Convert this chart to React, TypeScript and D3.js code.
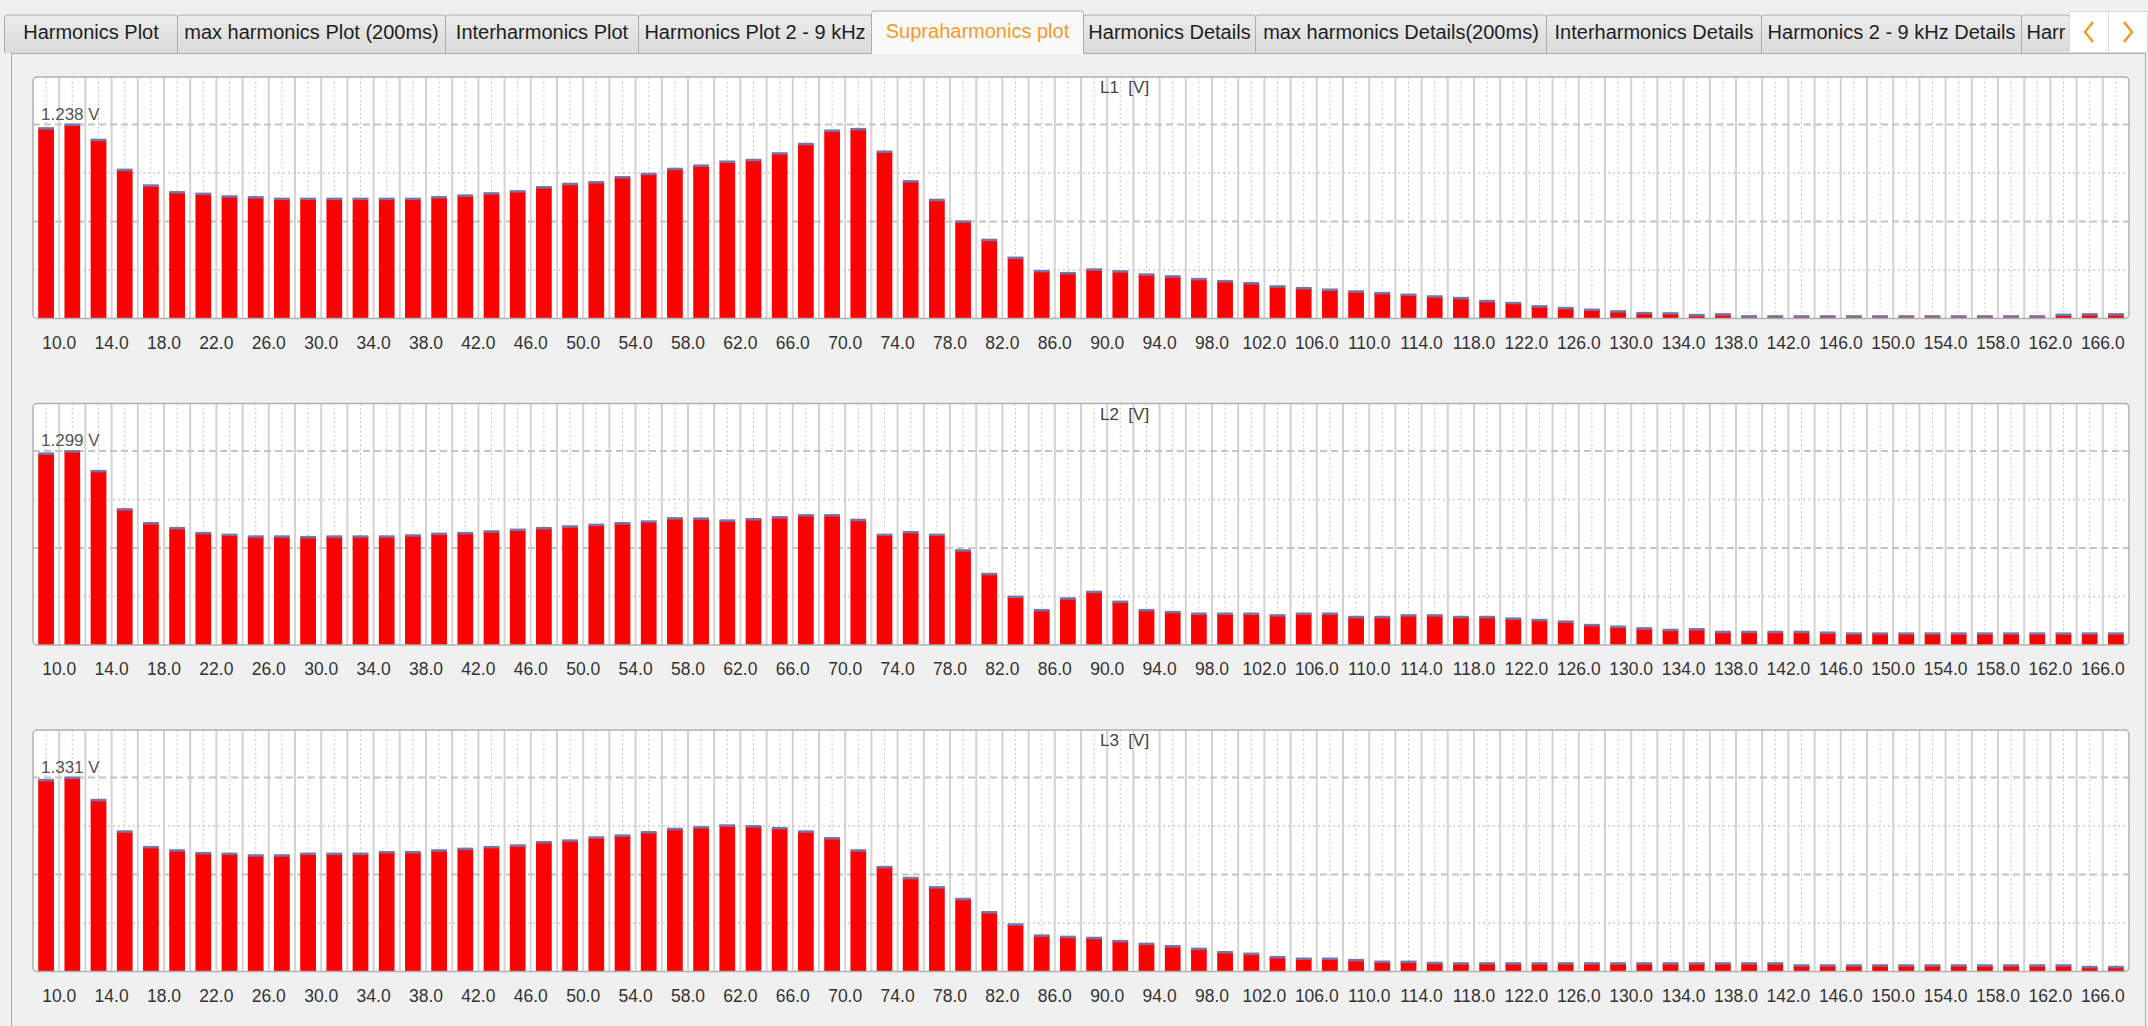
import React from 'react';
import * as d3 from 'd3';

// ---------- data ----------
const BANDS = [
  9, 11, 13, 15, 17, 19, 21, 23, 25, 27, 29, 31, 33, 35, 37, 39, 41, 43, 45, 47,
  49, 51, 53, 55, 57, 59, 61, 63, 65, 67, 69, 71, 73, 75, 77, 79, 81, 83, 85, 87,
  89, 91, 93, 95, 97, 99, 101, 103, 105, 107, 109, 111, 113, 115, 117, 119, 121, 123, 125, 127,
  129, 131, 133, 135, 137, 139, 141, 143, 145, 147, 149, 151, 153, 155, 157, 159, 161, 163, 165, 167,
];

const TICK_LABELS = [
  '10.0', '14.0', '18.0', '22.0', '26.0', '30.0', '34.0', '38.0', '42.0', '46.0',
  '50.0', '54.0', '58.0', '62.0', '66.0', '70.0', '74.0', '78.0', '82.0', '86.0',
  '90.0', '94.0', '98.0', '102.0', '106.0', '110.0', '114.0', '118.0', '122.0', '126.0',
  '130.0', '134.0', '138.0', '142.0', '146.0', '150.0', '154.0', '158.0', '162.0', '166.0',
];

const L1_VALUES = [
  1.215, 1.238, 1.141, 0.950, 0.850, 0.807, 0.797, 0.780, 0.775, 0.765,
  0.765, 0.765, 0.765, 0.765, 0.765, 0.775, 0.786, 0.800, 0.813, 0.839,
  0.860, 0.871, 0.903, 0.924, 0.956, 0.977, 1.002, 1.013, 1.055, 1.115,
  1.200, 1.210, 1.066, 0.877, 0.758, 0.620, 0.503, 0.389, 0.304, 0.291,
  0.314, 0.302, 0.282, 0.270, 0.253, 0.240, 0.227, 0.206, 0.195, 0.185,
  0.174, 0.164, 0.153, 0.142, 0.132, 0.113, 0.100, 0.079, 0.068, 0.057,
  0.047, 0.036, 0.034, 0.023, 0.028, 0.015, 0.015, 0.015, 0.015, 0.015,
  0.015, 0.015, 0.015, 0.015, 0.015, 0.015, 0.015, 0.025, 0.028, 0.028,
];

const L2_VALUES = [
  1.283, 1.299, 1.166, 0.910, 0.817, 0.784, 0.751, 0.739, 0.728, 0.728,
  0.724, 0.728, 0.728, 0.728, 0.735, 0.746, 0.751, 0.762, 0.773, 0.784,
  0.795, 0.806, 0.817, 0.828, 0.850, 0.848, 0.835, 0.844, 0.857, 0.870,
  0.870, 0.839, 0.739, 0.757, 0.739, 0.635, 0.477, 0.324, 0.235, 0.313,
  0.357, 0.291, 0.235, 0.222, 0.211, 0.211, 0.211, 0.200, 0.211, 0.211,
  0.189, 0.189, 0.200, 0.200, 0.189, 0.189, 0.178, 0.169, 0.158, 0.135,
  0.124, 0.113, 0.102, 0.107, 0.089, 0.089, 0.089, 0.089, 0.084, 0.078,
  0.078, 0.078, 0.078, 0.078, 0.078, 0.078, 0.078, 0.078, 0.078, 0.078,
];

const L3_VALUES = [
  1.315, 1.331, 1.178, 0.962, 0.855, 0.832, 0.814, 0.809, 0.798, 0.798,
  0.809, 0.809, 0.809, 0.820, 0.820, 0.832, 0.843, 0.855, 0.866, 0.889,
  0.900, 0.921, 0.934, 0.957, 0.980, 0.991, 1.003, 0.998, 0.985, 0.962,
  0.916, 0.832, 0.718, 0.643, 0.579, 0.499, 0.408, 0.324, 0.248, 0.239,
  0.232, 0.210, 0.191, 0.175, 0.157, 0.134, 0.123, 0.100, 0.089, 0.089,
  0.080, 0.068, 0.068, 0.060, 0.057, 0.057, 0.057, 0.057, 0.057, 0.057,
  0.057, 0.057, 0.057, 0.057, 0.057, 0.057, 0.057, 0.043, 0.043, 0.043,
  0.043, 0.043, 0.043, 0.043, 0.043, 0.043, 0.043, 0.043, 0.032, 0.032,
];

const PHASES = ['L1', 'L2', 'L3'];
const UNIT = 'V';

const TAB_LABELS = [
  'Harmonics Plot',
  'max harmonics Plot (200ms)',
  'Interharmonics Plot',
  'Harmonics Plot 2 - 9 kHz',
  'Supraharmonics plot',
  'Harmonics Details',
  'max harmonics Details(200ms)',
  'Interharmonics Details',
  'Harmonics 2 - 9 kHz Details',
  'Harr',
];
const SELECTED_TAB = 4;

// ---------- layout ----------
const W = 2148;
const H = 1026;
const FONT = "'Segoe UI','Liberation Sans',Arial,sans-serif";
const PLOT_L = 33;
const PLOT_R = 2129;
const PLOT_TOPS = [77, 403.5, 730];
const PLOT_H = 241.5;
const HEADROOM = 1.245;
const TAB_EDGES = [4, 177, 445, 638, 871, 1083, 1255, 1546, 1761, 2021, 2069];
const ORANGE = '#f39a2b';
const TAB_FONT = 20;

function Tabs() {
  const tabTop = 15;
  const selTop = 11;
  const bottom = 53;
  return (
    <g>
      <defs>
        <linearGradient id="tabGrad" x1="0" y1="0" x2="0" y2="1">
          <stop offset="0" stopColor="#ececec" />
          <stop offset="1" stopColor="#dadada" />
        </linearGradient>
      </defs>
      {TAB_LABELS.map((label, i) => {
        if (i === SELECTED_TAB) return null;
        const x0 = TAB_EDGES[i] + 0.5;
        const x1 = TAB_EDGES[i + 1] + 0.5;
        const r = 3;
        const d = `M${x0},${bottom} L${x0},${tabTop + r} Q${x0},${tabTop} ${x0 + r},${tabTop} L${x1 - r},${tabTop} Q${x1},${tabTop} ${x1},${tabTop + r} L${x1},${bottom}`;
        const last = i === TAB_LABELS.length - 1;
        return (
          <g key={label}>
            <path d={d} fill="url(#tabGrad)" stroke="#acacac" strokeWidth={1} />
            <text
              x={last ? x0 + 5 : (x0 + x1) / 2}
              y={39}
              textAnchor={last ? 'start' : 'middle'}
              fontSize={TAB_FONT}
              fill="#1e1e1e"
            >
              {label}
            </text>
          </g>
        );
      })}
      {(() => {
        const x0 = TAB_EDGES[SELECTED_TAB] + 0.5;
        const x1 = TAB_EDGES[SELECTED_TAB + 1] + 0.5;
        const r = 3;
        const d = `M${x0},${bottom + 1} L${x0},${selTop + r} Q${x0},${selTop} ${x0 + r},${selTop} L${x1 - r},${selTop} Q${x1},${selTop} ${x1},${selTop + r} L${x1},${bottom + 1}`;
        return (
          <g>
            <path d={d} fill="#f9f9f9" stroke="#acacac" strokeWidth={1} />
            <text x={(x0 + x1) / 2} y={38} textAnchor="middle" fontSize={TAB_FONT} fill={ORANGE}>
              {TAB_LABELS[SELECTED_TAB]}
            </text>
          </g>
        );
      })()}
      <rect x={2069.5} y={11.5} width={39} height={41} fill="#ffffff" stroke="#dcdcdc" />
      <rect x={2108.5} y={11.5} width={39} height={41} fill="#ffffff" stroke="#dcdcdc" />
      <path d="M2093,22 L2085,32 L2093,42" fill="none" stroke={ORANGE} strokeWidth={2.5} />
      <path d="M2124,22 L2132,32 L2124,42" fill="none" stroke={ORANGE} strokeWidth={2.5} />
    </g>
  );
}

function Panel({ values, phase, top }: { values: number[]; phase: string; top: number }) {
  const x = d3.scaleLinear().domain([8, 168]).range([PLOT_L, PLOT_R]);
  const maxV = d3.max(values) as number;
  const bottom = top + PLOT_H;
  const y = d3.scaleLinear().domain([0, maxV * HEADROOM]).range([bottom, top]);
  const slot = x(10) - x(8);
  const bw = slot * 0.6;
  const boundaries = BANDS.slice(1).map((b) => b - 1);
  const grid = [0.25, 0.5, 0.75, 1].map((f) => ({ f, v: maxV * f }));
  const clipId = `clip-${phase}`;
  return (
    <g>
      <defs>
        <clipPath id={clipId}>
          <rect x={PLOT_L} y={top} width={PLOT_R - PLOT_L} height={PLOT_H} rx={4} />
        </clipPath>
      </defs>
      <rect x={PLOT_L} y={top} width={PLOT_R - PLOT_L} height={PLOT_H} rx={4} fill="#ffffff" />
      <g clipPath={`url(#${clipId})`}>
        {BANDS.map((b) => (
          <line
            key={`c${b}`}
            x1={x(b)}
            x2={x(b)}
            y1={top}
            y2={bottom}
            stroke="#c6c6c6"
            strokeWidth={1}
            strokeDasharray="2 2.5"
          />
        ))}
        {boundaries.map((b) => (
          <line key={`s${b}`} x1={x(b)} x2={x(b)} y1={top} y2={bottom} stroke="#d3d3d3" strokeWidth={2} />
        ))}
        {grid.map(({ f, v }) => (
          <line
            key={`g${f}`}
            x1={PLOT_L}
            x2={PLOT_R}
            y1={y(v)}
            y2={y(v)}
            stroke={f === 1 || f === 0.5 ? '#c4c4c4' : '#cbcbcb'}
            strokeWidth={f === 1 || f === 0.5 ? 2 : 1.5}
            strokeDasharray={f === 1 || f === 0.5 ? '7 4' : '2 3'}
          />
        ))}
        {BANDS.map((b, i) => {
          const v = values[i];
          const yt = y(v);
          return (
            <g key={`b${b}`}>
              <rect x={x(b) - bw / 2} y={yt} width={bw} height={bottom - yt} fill="#ff0000" />
              <rect x={x(b) - bw / 2} y={yt - 1} width={bw} height={2.5} fill="#7676a6" />
            </g>
          );
        })}
      </g>
      <rect
        x={PLOT_L}
        y={top}
        width={PLOT_R - PLOT_L}
        height={PLOT_H}
        rx={4}
        fill="none"
        stroke="#b0b0b0"
        strokeWidth={1.5}
      />
      <text x={PLOT_L + 8} y={y(maxV) - 5} fontSize={17} fill="#555555">
        {`${d3.format('.3f')(maxV)} ${UNIT}`}
      </text>
      <text x={1100} y={top + 16} fontSize={17} fill="#444444" style={{ whiteSpace: 'pre' }}>
        {`${phase}  [${UNIT}]`}
      </text>
      {TICK_LABELS.map((t) => (
        <text key={t} x={x(parseFloat(t))} y={bottom + 30} fontSize={17.5} fill="#333333" textAnchor="middle">
          {t}
        </text>
      ))}
    </g>
  );
}

const SERIES = [L1_VALUES, L2_VALUES, L3_VALUES];

export default function App() {
  return (
    <svg
      width={W}
      height={H}
      viewBox={`0 0 ${W} ${H}`}
      style={{ position: 'absolute', left: 0, top: 0, display: 'block' }}
      fontFamily={FONT}
    >
      <rect width={W} height={H} fill="#f0f0f0" />
      <rect x={11.5} y={53.5} width={2134} height={990} fill="#f0f0f0" stroke="#adadad" />
      <Tabs />
      {SERIES.map((vals, i) => (
        <Panel key={PHASES[i]} values={vals} phase={PHASES[i]} top={PLOT_TOPS[i]} />
      ))}
    </svg>
  );
}
